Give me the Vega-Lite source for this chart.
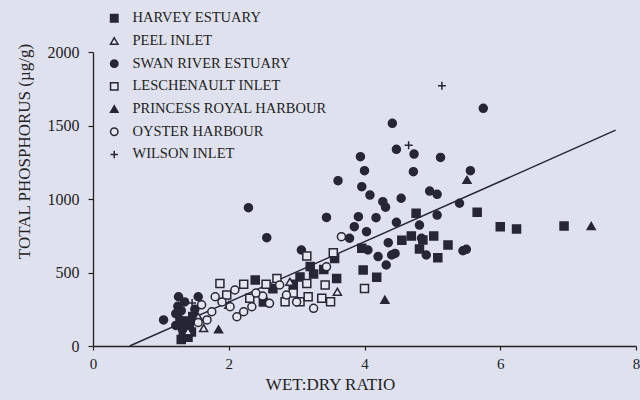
{
  "$schema": "https://vega.github.io/schema/vega-lite/v6.json",
  "width": 543,
  "height": 294,
  "autosize": {"type": "none"},
  "padding": {"left": 93, "top": 52, "right": 4, "bottom": 54},
  "background": "#dfe2ee",
  "config": {
    "view": {"stroke": null},
    "font": "Liberation Serif",
    "axis": {"grid": false, "domainColor": "#222", "tickColor": "#222", "labelColor": "#222", "titleColor": "#222", "labelFont": "Liberation Serif", "titleFont": "Liberation Serif", "labelFontSize": 15, "titleFontWeight": "normal", "domainWidth": 1.3, "tickWidth": 1.2, "labelFlush": false, "format": "d"},
    "legend": {"labelFont": "Liberation Serif", "labelFontSize": 14.5, "labelColor": "#222", "labelLimit": 400}
  },
  "datasets": {
    "pts": [
      {"site": "HARVEY ESTUARY", "wd": 1.30, "tp": 45},
      {"site": "HARVEY ESTUARY", "wd": 1.33, "tp": 80},
      {"site": "HARVEY ESTUARY", "wd": 1.36, "tp": 110},
      {"site": "HARVEY ESTUARY", "wd": 1.40, "tp": 60},
      {"site": "HARVEY ESTUARY", "wd": 1.42, "tp": 140},
      {"site": "HARVEY ESTUARY", "wd": 1.45, "tp": 95},
      {"site": "HARVEY ESTUARY", "wd": 1.38, "tp": 170},
      {"site": "HARVEY ESTUARY", "wd": 1.47, "tp": 200},
      {"site": "HARVEY ESTUARY", "wd": 1.32, "tp": 130},
      {"site": "HARVEY ESTUARY", "wd": 2.39, "tp": 449},
      {"site": "HARVEY ESTUARY", "wd": 2.51, "tp": 300},
      {"site": "HARVEY ESTUARY", "wd": 2.65, "tp": 390},
      {"site": "HARVEY ESTUARY", "wd": 2.95, "tp": 420},
      {"site": "HARVEY ESTUARY", "wd": 3.05, "tp": 470},
      {"site": "HARVEY ESTUARY", "wd": 3.25, "tp": 490},
      {"site": "HARVEY ESTUARY", "wd": 3.20, "tp": 540},
      {"site": "HARVEY ESTUARY", "wd": 3.59, "tp": 460},
      {"site": "HARVEY ESTUARY", "wd": 3.56, "tp": 596},
      {"site": "HARVEY ESTUARY", "wd": 3.40, "tp": 520},
      {"site": "HARVEY ESTUARY", "wd": 3.96, "tp": 665},
      {"site": "HARVEY ESTUARY", "wd": 3.98, "tp": 517},
      {"site": "HARVEY ESTUARY", "wd": 4.18, "tp": 467},
      {"site": "HARVEY ESTUARY", "wd": 4.76, "tp": 903},
      {"site": "HARVEY ESTUARY", "wd": 4.69, "tp": 748},
      {"site": "HARVEY ESTUARY", "wd": 4.86, "tp": 721},
      {"site": "HARVEY ESTUARY", "wd": 5.02, "tp": 748},
      {"site": "HARVEY ESTUARY", "wd": 5.23, "tp": 687},
      {"site": "HARVEY ESTUARY", "wd": 5.08, "tp": 600},
      {"site": "HARVEY ESTUARY", "wd": 4.81, "tp": 660},
      {"site": "HARVEY ESTUARY", "wd": 5.66, "tp": 910},
      {"site": "HARVEY ESTUARY", "wd": 6.00, "tp": 812},
      {"site": "HARVEY ESTUARY", "wd": 6.24, "tp": 796},
      {"site": "HARVEY ESTUARY", "wd": 6.94, "tp": 816},
      {"site": "HARVEY ESTUARY", "wd": 4.55, "tp": 720},
      {"site": "SWAN RIVER ESTUARY", "wd": 1.04, "tp": 177},
      {"site": "SWAN RIVER ESTUARY", "wd": 1.26, "tp": 335},
      {"site": "SWAN RIVER ESTUARY", "wd": 1.55, "tp": 335},
      {"site": "SWAN RIVER ESTUARY", "wd": 1.25, "tp": 270},
      {"site": "SWAN RIVER ESTUARY", "wd": 1.22, "tp": 220},
      {"site": "SWAN RIVER ESTUARY", "wd": 1.28, "tp": 180},
      {"site": "SWAN RIVER ESTUARY", "wd": 1.30, "tp": 240},
      {"site": "SWAN RIVER ESTUARY", "wd": 1.22, "tp": 140},
      {"site": "SWAN RIVER ESTUARY", "wd": 1.35, "tp": 300},
      {"site": "SWAN RIVER ESTUARY", "wd": 1.50, "tp": 250},
      {"site": "SWAN RIVER ESTUARY", "wd": 2.29, "tp": 941},
      {"site": "SWAN RIVER ESTUARY", "wd": 2.56, "tp": 737},
      {"site": "SWAN RIVER ESTUARY", "wd": 3.07, "tp": 653},
      {"site": "SWAN RIVER ESTUARY", "wd": 3.44, "tp": 875},
      {"site": "SWAN RIVER ESTUARY", "wd": 3.61, "tp": 1125},
      {"site": "SWAN RIVER ESTUARY", "wd": 3.94, "tp": 1288},
      {"site": "SWAN RIVER ESTUARY", "wd": 4.00, "tp": 1193},
      {"site": "SWAN RIVER ESTUARY", "wd": 4.41, "tp": 1515},
      {"site": "SWAN RIVER ESTUARY", "wd": 4.47, "tp": 1338},
      {"site": "SWAN RIVER ESTUARY", "wd": 4.73, "tp": 1306},
      {"site": "SWAN RIVER ESTUARY", "wd": 5.12, "tp": 1283},
      {"site": "SWAN RIVER ESTUARY", "wd": 4.72, "tp": 1186},
      {"site": "SWAN RIVER ESTUARY", "wd": 5.56, "tp": 1193},
      {"site": "SWAN RIVER ESTUARY", "wd": 3.96, "tp": 1084},
      {"site": "SWAN RIVER ESTUARY", "wd": 4.08, "tp": 1027},
      {"site": "SWAN RIVER ESTUARY", "wd": 4.27, "tp": 982},
      {"site": "SWAN RIVER ESTUARY", "wd": 4.31, "tp": 944},
      {"site": "SWAN RIVER ESTUARY", "wd": 4.54, "tp": 1005},
      {"site": "SWAN RIVER ESTUARY", "wd": 4.96, "tp": 1054},
      {"site": "SWAN RIVER ESTUARY", "wd": 5.07, "tp": 1032},
      {"site": "SWAN RIVER ESTUARY", "wd": 5.40, "tp": 971},
      {"site": "SWAN RIVER ESTUARY", "wd": 3.91, "tp": 880},
      {"site": "SWAN RIVER ESTUARY", "wd": 4.17, "tp": 873},
      {"site": "SWAN RIVER ESTUARY", "wd": 4.47, "tp": 841},
      {"site": "SWAN RIVER ESTUARY", "wd": 3.85, "tp": 812},
      {"site": "SWAN RIVER ESTUARY", "wd": 4.03, "tp": 778},
      {"site": "SWAN RIVER ESTUARY", "wd": 3.78, "tp": 733},
      {"site": "SWAN RIVER ESTUARY", "wd": 4.35, "tp": 703},
      {"site": "SWAN RIVER ESTUARY", "wd": 4.20, "tp": 608},
      {"site": "SWAN RIVER ESTUARY", "wd": 4.45, "tp": 630},
      {"site": "SWAN RIVER ESTUARY", "wd": 4.05, "tp": 653},
      {"site": "SWAN RIVER ESTUARY", "wd": 4.32, "tp": 551},
      {"site": "SWAN RIVER ESTUARY", "wd": 4.40, "tp": 619},
      {"site": "SWAN RIVER ESTUARY", "wd": 5.07, "tp": 891},
      {"site": "SWAN RIVER ESTUARY", "wd": 4.81, "tp": 823},
      {"site": "SWAN RIVER ESTUARY", "wd": 4.84, "tp": 733},
      {"site": "SWAN RIVER ESTUARY", "wd": 4.91, "tp": 619},
      {"site": "SWAN RIVER ESTUARY", "wd": 5.45, "tp": 648},
      {"site": "SWAN RIVER ESTUARY", "wd": 5.50, "tp": 658},
      {"site": "SWAN RIVER ESTUARY", "wd": 5.75, "tp": 1617},
      {"site": "PEEL INLET", "wd": 1.40, "tp": 100},
      {"site": "PEEL INLET", "wd": 1.63, "tp": 122},
      {"site": "PEEL INLET", "wd": 1.55, "tp": 200},
      {"site": "PEEL INLET", "wd": 2.90, "tp": 437},
      {"site": "PEEL INLET", "wd": 3.60, "tp": 369},
      {"site": "PEEL INLET", "wd": 2.00, "tp": 280},
      {"site": "LESCHENAULT INLET", "wd": 1.87, "tp": 426},
      {"site": "LESCHENAULT INLET", "wd": 2.22, "tp": 420},
      {"site": "LESCHENAULT INLET", "wd": 1.97, "tp": 347},
      {"site": "LESCHENAULT INLET", "wd": 2.31, "tp": 324},
      {"site": "LESCHENAULT INLET", "wd": 2.71, "tp": 460},
      {"site": "LESCHENAULT INLET", "wd": 2.83, "tp": 301},
      {"site": "LESCHENAULT INLET", "wd": 3.05, "tp": 301},
      {"site": "LESCHENAULT INLET", "wd": 3.15, "tp": 612},
      {"site": "LESCHENAULT INLET", "wd": 3.54, "tp": 635},
      {"site": "LESCHENAULT INLET", "wd": 4.00, "tp": 392},
      {"site": "LESCHENAULT INLET", "wd": 3.42, "tp": 415},
      {"site": "LESCHENAULT INLET", "wd": 3.50, "tp": 301},
      {"site": "LESCHENAULT INLET", "wd": 3.15, "tp": 426},
      {"site": "LESCHENAULT INLET", "wd": 3.37, "tp": 324},
      {"site": "LESCHENAULT INLET", "wd": 3.17, "tp": 335},
      {"site": "LESCHENAULT INLET", "wd": 2.55, "tp": 420},
      {"site": "LESCHENAULT INLET", "wd": 2.95, "tp": 360},
      {"site": "OYSTER HARBOUR", "wd": 1.68, "tp": 177},
      {"site": "OYSTER HARBOUR", "wd": 1.75, "tp": 233},
      {"site": "OYSTER HARBOUR", "wd": 1.80, "tp": 335},
      {"site": "OYSTER HARBOUR", "wd": 2.02, "tp": 267},
      {"site": "OYSTER HARBOUR", "wd": 2.12, "tp": 199},
      {"site": "OYSTER HARBOUR", "wd": 2.22, "tp": 233},
      {"site": "OYSTER HARBOUR", "wd": 2.09, "tp": 381},
      {"site": "OYSTER HARBOUR", "wd": 2.34, "tp": 267},
      {"site": "OYSTER HARBOUR", "wd": 2.75, "tp": 415},
      {"site": "OYSTER HARBOUR", "wd": 2.85, "tp": 347},
      {"site": "OYSTER HARBOUR", "wd": 3.66, "tp": 744},
      {"site": "OYSTER HARBOUR", "wd": 3.44, "tp": 539},
      {"site": "OYSTER HARBOUR", "wd": 3.25, "tp": 256},
      {"site": "OYSTER HARBOUR", "wd": 1.60, "tp": 280},
      {"site": "OYSTER HARBOUR", "wd": 1.90, "tp": 300},
      {"site": "OYSTER HARBOUR", "wd": 2.50, "tp": 340},
      {"site": "OYSTER HARBOUR", "wd": 2.60, "tp": 290},
      {"site": "OYSTER HARBOUR", "wd": 3.00, "tp": 300},
      {"site": "OYSTER HARBOUR", "wd": 1.55, "tp": 160},
      {"site": "OYSTER HARBOUR", "wd": 2.40, "tp": 360},
      {"site": "PRINCESS ROYAL HARBOUR", "wd": 1.85, "tp": 113},
      {"site": "PRINCESS ROYAL HARBOUR", "wd": 4.30, "tp": 315},
      {"site": "PRINCESS ROYAL HARBOUR", "wd": 5.51, "tp": 1130},
      {"site": "PRINCESS ROYAL HARBOUR", "wd": 7.34, "tp": 816},
      {"site": "WILSON INLET", "wd": 1.46, "tp": 292},
      {"site": "WILSON INLET", "wd": 4.65, "tp": 1365},
      {"site": "WILSON INLET", "wd": 5.14, "tp": 1770}
    ],
    "fit": [
      {"wd": 0.54, "tp": 0},
      {"wd": 7.7, "tp": 1468}
    ]
  },
  "layer": [
    {
      "data": {"name": "fit"},
      "mark": {"type": "line", "color": "#262636", "strokeWidth": 1.4},
      "encoding": {
        "x": {"field": "wd", "type": "quantitative"},
        "y": {"field": "tp", "type": "quantitative"}
      }
    },
    {
      "data": {"name": "pts"},
      "mark": {"type": "point", "strokeWidth": 1.5, "opacity": 1, "size": 64},
      "encoding": {
        "x": {"field": "wd", "type": "quantitative", "scale": {"domain": [0, 8], "nice": false},
          "axis": {"title": "WET:DRY RATIO", "titleFontSize": 17, "titleX": 237, "values": [0, 2, 4, 6, 8], "tickSize": 4, "labelPadding": 6, "titlePadding": 5}},
        "y": {"field": "tp", "type": "quantitative", "scale": {"domain": [0, 2000], "nice": false},
          "axis": {"title": "TOTAL PHOSPHORUS (µg/g)", "titleFontSize": 17, "titleY": 99, "labelFontSize": 16, "values": [0, 500, 1000, 1500, 2000], "tickSize": 5, "labelPadding": 9, "titlePadding": 14}},
        "shape": {"field": "site", "type": "nominal",
          "scale": {"domain": ["HARVEY ESTUARY", "PEEL INLET", "SWAN RIVER ESTUARY", "LESCHENAULT INLET", "PRINCESS ROYAL HARBOUR", "OYSTER HARBOUR", "WILSON INLET"],
            "range": ["square", "triangle-up", "circle", "square", "triangle-up", "circle", "M-1,0H1M0,-1V1"]},
          "legend": {"title": null, "orient": "none", "legendX": 14, "legendY": -41, "rowPadding": 7.7, "symbolSize": 55, "symbolStrokeWidth": 1.5, "labelOffset": 11, "padding": 0}},
        "fill": {"field": "site", "type": "nominal",
          "scale": {"domain": ["HARVEY ESTUARY", "PEEL INLET", "SWAN RIVER ESTUARY", "LESCHENAULT INLET", "PRINCESS ROYAL HARBOUR", "OYSTER HARBOUR", "WILSON INLET"],
            "range": ["#262636", "#e4e6f0", "#262636", "#e4e6f0", "#262636", "#e4e6f0", "#262636"]},
          "legend": {"title": null, "orient": "none", "legendX": 14, "legendY": -41, "rowPadding": 7.7, "symbolSize": 55, "symbolStrokeWidth": 1.5, "labelOffset": 11, "padding": 0}},
        "stroke": {"field": "site", "type": "nominal",
          "scale": {"domain": ["HARVEY ESTUARY", "PEEL INLET", "SWAN RIVER ESTUARY", "LESCHENAULT INLET", "PRINCESS ROYAL HARBOUR", "OYSTER HARBOUR", "WILSON INLET"],
            "range": ["#262636", "#262636", "#262636", "#262636", "#262636", "#262636", "#262636"]},
          "legend": {"title": null, "orient": "none", "legendX": 14, "legendY": -41, "rowPadding": 7.7, "symbolSize": 55, "symbolStrokeWidth": 1.5, "labelOffset": 11, "padding": 0}}
      }
    }
  ]
}
